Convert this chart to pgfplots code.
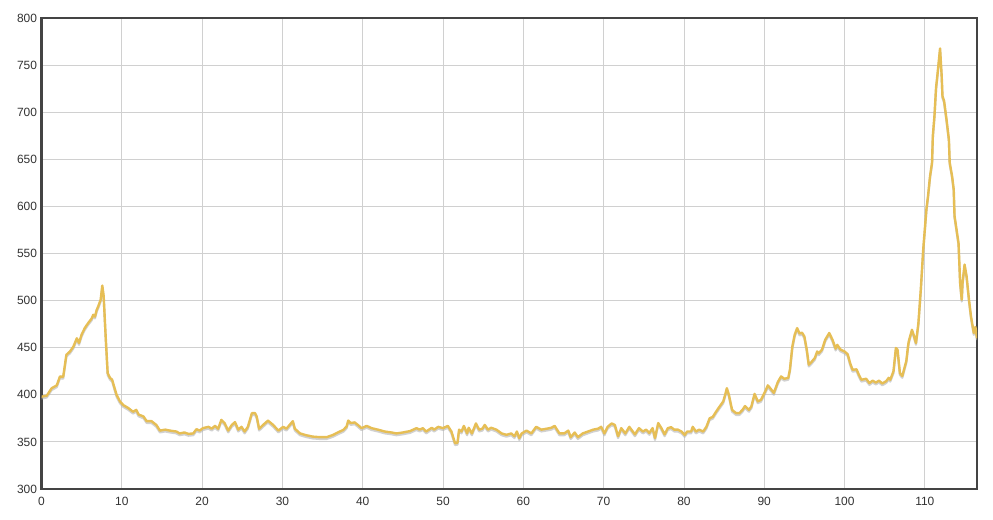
\documentclass[border=0pt]{standalone}
\usepackage{pgfplots}
\pgfplotsset{compat=1.18}
\usepackage{fontspec}
\setmainfont{Liberation Sans}
\definecolor{linegold}{HTML}{E6BE55}
\definecolor{framegray}{HTML}{444444}
\definecolor{gridgray}{HTML}{D0D0D0}
\definecolor{labelgray}{HTML}{333333}
\pgfplotstableread{
x y
0 398
0.65 399
1.27 407
1.9 410
2.3 419.5
2.7 419
3.1 442.5
3.55 446
3.96 451
4.4 460
4.67 455
5.0 464
5.4 471
5.8 476
6.25 481
6.45 485
6.66 483
6.87 490
7.07 494
7.37 501
7.57 516
7.74 505
7.99 462
8.24 423
8.53 418
8.8 416
9.0 410
9.35 400
9.77 393
10.2 389
10.8 386
11.4 382
11.8 384
12.1 379
12.7 377
13.1 372
13.7 372
14.3 368
14.75 362
15.4 363
16.0 362
16.8 361
17.2 359
17.8 360
18.3 358.5
18.9 359
19.3 363.5
19.7 362
20.1 364.6
20.8 366
21.2 364
21.6 367
22.0 364
22.4 373.4
22.8 370
23.25 362
23.7 368
24.1 371
24.5 363
24.9 366
25.3 361
25.7 366
26.2 380.5
26.6 380.5
26.8 377
27.1 364
27.6 368
28.2 372.6
28.85 368
29.5 362
30.1 366
30.5 364
30.9 368
31.3 372
31.55 364
32.2 359
33.0 357
33.8 355.6
34.7 355
35.5 355
36.3 357.4
36.9 360
37.6 362.8
38.0 366.4
38.2 372.7
38.5 370
39.0 370.7
39.4 368
39.85 364.6
40.5 367
41.1 364.6
41.9 363
42.75 361
43.6 360
44.2 359
45.0 360
45.9 361.5
46.7 364.6
47.1 363
47.5 364.6
47.9 361
48.6 365
48.9 363
49.4 366
50.0 364.6
50.6 367
51.05 361
51.5 348.6
51.8 349
52.0 363
52.3 361
52.6 367
53.0 359
53.2 365
53.6 359
54.1 369.6
54.5 363
54.9 364
55.2 368
55.6 363
56.0 365
56.65 363
57.3 359
57.9 357.5
58.5 359
58.9 356
59.2 361
59.5 354
59.8 359
60.4 362
61.0 359
61.6 366
62.25 363
62.9 364
63.5 365
63.9 367
64.5 359
65.1 359
65.6 362
65.9 355
66.4 360
66.8 355
67.4 359
68.05 361
68.7 363
69.3 364
69.7 366
70.1 359
70.5 366
71.0 369.6
71.4 368
71.8 356
72.2 364.6
72.7 359
73.2 366
73.9 358
74.4 364.6
74.9 361
75.3 363
75.7 359.5
76.1 364.6
76.4 354
76.8 370
77.2 364.6
77.6 358
78.0 364.6
78.4 365.6
78.8 363
79.25 363
79.7 361
80.1 357.4
80.4 361
80.9 361
81.1 366
81.5 361
81.9 363
82.4 361
82.8 366
83.2 375
83.6 376.6
84.0 382
84.4 387
84.9 393
85.2 402
85.35 407
85.6 400
86.0 384
86.5 380.5
86.9 380.5
87.3 384
87.6 388
88.1 384
88.4 387.6
88.8 401
89.2 393
89.6 394.6
90.2 405
90.45 410
90.75 407
91.2 402
91.7 413.6
92.1 419.5
92.5 417
93.0 418
93.2 426.6
93.5 451
93.8 463.8
94.1 470.8
94.4 465
94.7 466
95.0 462
95.3 448
95.55 432
95.8 434
96.3 439
96.6 446
96.8 444
97.2 448
97.6 458.5
98.1 465.6
98.5 458.5
98.9 449
99.1 453
99.5 448
100.0 446
100.4 443
100.7 433.6
101.0 426.6
101.5 427
101.8 421
102.1 416
102.7 417
103.1 412.4
103.5 415
103.9 413
104.3 415
104.7 412
105.2 414.5
105.5 418
105.7 416
106.1 425
106.4 449.7
106.6 448
106.9 423
107.2 420
107.7 436
107.9 451
108.0 456.7
108.4 469
108.6 464
108.9 455
109.2 476
109.5 511.7
109.8 554
110.2 597
110.4 611
110.65 632
110.9 646.5
111.0 675
111.2 696
111.4 726
111.6 742
111.9 767.7
112.1 738.6
112.2 717
112.4 712
112.7 692.5
113.0 671
113.1 646.5
113.4 632
113.6 618
113.7 590
113.95 575.5
114.2 561
114.4 518.8
114.6 501
114.7 518.8
114.95 538.3
115.2 526
115.5 501
115.75 483.3
116.1 465.6
116.3 472
116.5 460
}\datatable
\begin{document}
\begin{tikzpicture}
\begin{axis}[
  scale only axis,
  width=935.5bp, height=471bp,
  xmin=0, xmax=116.5, ymin=300, ymax=800,
  xtick={0,10,...,110},
  ytick={300,350,...,800},
  grid=major,
  major grid style={gridgray, line width=0.8bp},
  axis line style={framegray, line width=2bp},
  major tick length=0pt,
  tick style={draw=none},
  ticklabel style={font=\fontsize{12}{14}\selectfont, text=labelgray},
  /pgf/number format/assume math mode=true,
  yticklabel style={xshift=-1bp},
  xticklabel style={yshift=-4.5bp},
  clip=true,
]
\addplot[black!30, opacity=0.6, line width=2.2bp, yshift=-1.8bp, line join=round] table[x=x,y=y] {\datatable};
\addplot[linegold, line width=2.4bp, line join=round] table[x=x,y=y] {\datatable};
\end{axis}
\path ([shift={(-41.5bp,-31bp)}]current axis.south west) rectangle ([shift={(16bp,18bp)}]current axis.north east);
\end{tikzpicture}
\end{document}
